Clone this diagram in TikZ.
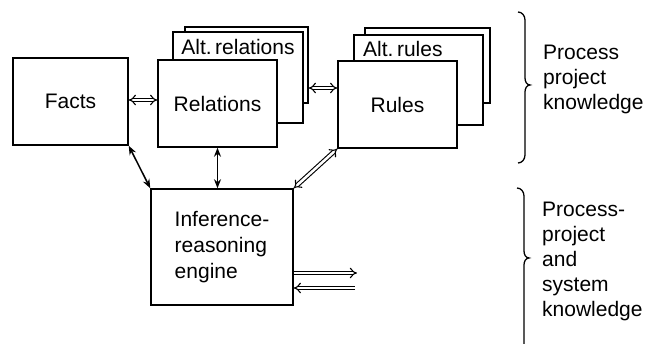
\documentclass[tikz,border=0pt]{standalone}
\usepackage{fontspec}
\setmainfont{Liberation Sans}
\usetikzlibrary{arrows.meta}
\begin{document}
\begin{tikzpicture}[x=1pt,y=-1pt,
  box/.style={draw,line width=1.5pt,fill=white,inner sep=0pt,font=\fontsize{21}{26}\selectfont},
  lbl/.style={inner sep=0pt,font=\fontsize{21}{25}\selectfont,align=left},
  thin2/.style={line width=1.5pt,{Stealth[length=9pt,width=7pt]}-{Stealth[length=9pt,width=7pt]}},
  dbl/.style={double,double distance=2.5pt,line width=1.1pt},
  brace/.style={line width=1.3pt}]
\useasboundingbox (0,0) rectangle (649,344);
% Relations stack
\node[box,minimum width=123pt,minimum height=76pt] (relback) at (246.5,65) {};
\node[box,minimum width=130pt,minimum height=91pt] (altrel) at (238,77.5) {};
\node[lbl] (altreltxt) at (238,47) {Alt.\,relations};
\node[box,minimum width=119pt,minimum height=87pt] (rel) at (217.5,103.5) {Relations};
% Rules stack
\node[box,minimum width=125pt,minimum height=75pt] (rulback) at (427.5,65.5) {};
\node[box,minimum width=129pt,minimum height=90pt] (altrul) at (418.5,80) {};
\node[lbl,anchor=west] (altrultxt) at (363,49) {Alt.\,rules};
\node[box,minimum width=119pt,minimum height=87pt] (rul) at (397.5,104.5) {Rules};
% Facts
\node[box,minimum width=115pt,minimum height=87pt] (facts) at (70.5,101.5) {Facts};
% Inference
\node[box,minimum width=142pt,minimum height=116pt,align=left] (inf) at (222,247) {Inference-\\reasoning\\engine};
% connectors
\draw[dbl,{Implies}-{Implies}] (facts.east |- 0,100) -- (rel.west |- 0,100);
\draw[dbl,{Implies}-{Implies}] (relback.east |- 0,88) -- (rul.west |- 0,88);
\draw[thin2] (facts.south east) -- (inf.north west);
\draw[thin2] (rel.south) -- (inf.north -| rel.south);
\draw[dbl,{Implies}-{Implies}] (rul.south west) -- (inf.north east);
\coordinate (out) at (357,273);
\coordinate (in) at (355,288);
\draw[dbl,-{Implies}] (inf.east |- out) -- (out);
\draw[dbl,-{Implies}] (in) -- (inf.east |- in);
% braces
\draw[brace] (518,12) to[out=0,in=90] (525,20) -- (525,78) to[out=-90,in=180] (530,85)
  to[out=180,in=90] (525,92) -- (525,155) to[out=-90,in=0] (518,163);
\draw[brace] (517,188) to[out=0,in=90] (524,196) -- (524,251) to[out=-90,in=180] (529,258)
  to[out=180,in=90] (524,265) -- (524,344);
% labels
\node[lbl,anchor=north west] (t1) at (543,45) {Process\\project\\knowledge};
\node[lbl,anchor=north west] (t2) at (542,202) {Process-\\project\\and\\system\\knowledge};
\end{tikzpicture}
\end{document}
